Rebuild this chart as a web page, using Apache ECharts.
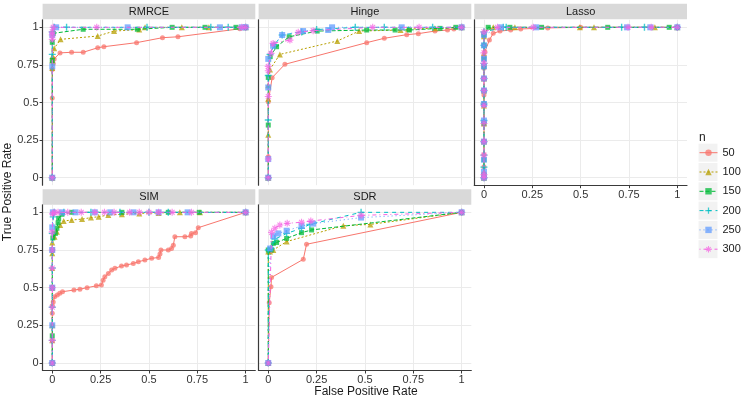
<!DOCTYPE html>
<html><head><meta charset="utf-8">
<script src="https://cdn.jsdelivr.net/npm/echarts@6/dist/echarts.min.js"></script>
<style>html,body{margin:0;padding:0;background:#fff}#c{width:747px;height:399px}</style>
</head><body><div id="c"></div>
<script>
const methods = ['RMRCE','Hinge','Lasso','SIM','SDR'];
const nLevels = ['50','100','150','200','250','300'];
const tickValues = [0,0.25,0.5,0.75,1];

// each method: one [FPR, TPR] list per n level (50,100,150,200,250,300)
const rmrce = [
  [[0,0],[0,0.53],[0,0.72],[0.005,0.76],[0.01,0.79],[0.04,0.83],[0.10,0.834],[0.16,0.834],[0.235,0.864],[0.267,0.871],[0.436,0.898],[0.57,0.931],[0.65,0.937],[0.97,0.99],[1,1]],
  [[0,0],[0,0.73],[0,0.78],[0.002,0.81],[0.01,0.86],[0.043,0.92],[0.235,0.942],[0.32,0.975],[0.45,0.985],[0.48,1],[0.67,1],[0.81,1],[1,1]],
  [[0,0],[0,0.78],[0,0.9],[0.005,0.96],[0.16,0.987],[0.44,0.987],[0.62,1],[0.79,1],[0.95,1],[1,1]],
  [[0,0],[0,0.82],[0,0.97],[0.01,1],[0.074,1],[0.49,1],[0.82,1],[0.91,1],[1,1]],
  [[0,0],[0,0.74],[0,0.95],[0.02,1],[0.39,1],[0.867,1],[0.98,1],[1,1]],
  [[0,0],[0,0.92],[0,0.95],[0,0.97],[0.005,1],[0.23,1],[0.98,1],[1,1]]
];
const hinge = [
  [[0,0],[0,0.14],[0,0.505],[0.02,0.665],[0.086,0.754],[0.509,0.898],[0.60,0.927],[0.716,0.951],[0.776,0.958],[0.862,0.975],[0.927,0.982],[0.96,0.989],[1,1]],
  [[0,0],[0,0.286],[0,0.525],[0,0.614],[0.009,0.72],[0.06,0.82],[0.357,0.909],[0.47,0.975],[0.684,0.982],[0.724,0.989],[0.862,0.993],[1,1]],
  [[0,0],[0,0.35],[0,0.667],[0.01,0.805],[0.043,0.871],[0.108,0.937],[0.253,0.975],[0.509,0.982],[0.656,0.982],[0.73,0.982],[0.888,0.993],[0.97,1],[1,1]],
  [[0,0],[0,0.384],[0,0.68],[0.009,0.82],[0.03,0.882],[0.072,0.949],[0.173,0.969],[0.25,0.985],[0.45,1],[0.6,1],[0.85,1],[1,1]],
  [[0,0],[0,0.124],[0,0.6],[0,0.79],[0.025,0.877],[0.072,0.949],[0.18,0.975],[0.31,0.982],[0.33,1],[0.69,1],[1,1]],
  [[0,0],[0,0.124],[0,0.54],[0,0.711],[0,0.74],[0.014,0.827],[0.025,0.893],[0.112,0.915],[0.155,0.967],[0.232,0.978],[0.54,1],[0.78,1],[1,1]]
];
const lasso = [
  [[0,0],[0,0.073],[0,0.155],[0,0.24],[0,0.36],[0,0.484],[0,0.55],[0,0.66],[0,0.727],[0,0.8],[0.005,0.838],[0.028,0.916],[0.048,0.96],[0.083,0.975],[0.138,0.982],[0.19,0.989],[0.33,0.996],[0.5,1],[1,1]],
  [[0,0],[0,0.04],[0,0.24],[0,0.36],[0,0.48],[0,0.58],[0,0.66],[0,0.76],[0,0.83],[0,0.94],[0,0.97],[0.048,1],[0.16,1],[0.496,1],[0.569,1],[0.884,1],[1,1]],
  [[0,0],[0,0.02],[0,0.12],[0,0.24],[0,0.36],[0,0.49],[0,0.58],[0,0.66],[0,0.74],[0,0.79],[0,0.88],[0,0.95],[0.022,1],[0.134,1],[0.298,1],[0.64,1],[0.958,1],[1,1]],
  [[0,0],[0,0.07],[0,0.15],[0,0.24],[0,0.38],[0,0.49],[0,0.58],[0,0.66],[0,0.76],[0,0.88],[0,0.97],[0.1,1],[0.115,1],[0.712,1],[0.83,1],[1,1]],
  [[0,0],[0,0.04],[0,0.12],[0,0.24],[0,0.38],[0,0.49],[0,0.58],[0,0.66],[0,0.74],[0,0.79],[0,0.88],[0,0.95],[0.086,1],[0.27,1],[0.74,1],[0.86,1],[1,1]],
  [[0,0],[0,0.02],[0,0.15],[0,0.24],[0,0.36],[0,0.48],[0,0.58],[0,0.66],[0,0.76],[0,0.83],[0,0.97],[0.07,1],[0.255,1],[0.745,1],[0.865,1],[1,1]]
];
const sim = [
  [[0,0],[0,0.15],[0,0.25],[0,0.33],[0,0.38],[0.005,0.404],[0.012,0.44],[0.026,0.451],[0.039,0.462],[0.053,0.473],[0.112,0.484],[0.143,0.49],[0.18,0.50],[0.228,0.512],[0.254,0.517],[0.263,0.549],[0.272,0.572],[0.29,0.594],[0.307,0.617],[0.324,0.628],[0.358,0.644],[0.384,0.65],[0.419,0.661],[0.445,0.672],[0.479,0.683],[0.514,0.695],[0.55,0.70],[0.557,0.723],[0.562,0.75],[0.6,0.75],[0.617,0.76],[0.626,0.782],[0.634,0.838],[0.686,0.838],[0.716,0.843],[0.72,0.86],[0.741,0.865],[0.755,0.898],[1,1]],
  [[0,0],[0,0.15],[0,0.25],[0,0.5],[0,0.63],[0,0.728],[0,0.80],[0.012,0.838],[0.024,0.871],[0.041,0.916],[0.059,0.942],[0.10,0.949],[0.154,0.955],[0.20,0.965],[0.24,0.971],[0.29,0.982],[0.36,0.987],[0.45,0.993],[0.55,0.996],[0.66,1],[0.764,1],[1,1]],
  [[0,0],[0,0.18],[0,0.5],[0,0.75],[0.003,0.83],[0.016,0.86],[0.024,0.894],[0.03,0.93],[0.033,0.96],[0.05,0.987],[0.1,1],[0.36,1],[0.6,1],[0.76,1],[1,1]],
  [[0,0],[0,0.15],[0,0.37],[0,0.63],[0,0.86],[0.005,0.97],[0.01,1],[0.06,1],[0.2,1],[0.35,1],[0.5,1],[0.6,1],[1,1]],
  [[0,0],[0,0.25],[0,0.5],[0,0.75],[0,0.9],[0.003,1],[0.05,1],[0.12,1],[0.22,1],[0.3,1],[0.42,1],[0.55,1],[0.7,1],[1,1]],
  [[0,0],[0,0.15],[0,0.37],[0,0.5],[0,0.63],[0,0.75],[0,0.87],[0.002,0.99],[0.01,1],[0.03,1],[0.08,1],[0.15,1],[0.22,1],[0.27,1],[0.32,1],[0.4,1],[0.45,1],[0.5,1],[0.55,1],[0.62,1],[0.72,1],[1,1]]
];
const sdr = [
  [[0,0],[0.005,0.4],[0.014,0.506],[0.017,0.568],[0.181,0.688],[0.198,0.788],[1,1]],
  [[0,0],[0,0.74],[0.009,0.74],[0.026,0.75],[0.095,0.806],[0.388,0.911],[0.528,0.92],[1,1]],
  [[0,0],[0,0.75],[0.015,0.75],[0.026,0.794],[0.043,0.8],[0.095,0.827],[0.172,0.865],[0.224,0.883],[1,1]],
  [[0,0],[0,0.75],[0.015,0.76],[0.034,0.822],[0.095,0.86],[0.172,0.894],[0.215,0.92],[0.48,1],[1,1]],
  [[0,0],[0.01,0.76],[0.026,0.842],[0.052,0.86],[0.095,0.878],[0.172,0.909],[0.232,0.925],[0.48,0.965],[1,1]],
  [[0,0],[0.017,0.867],[0.034,0.894],[0.06,0.916],[0.098,0.927],[0.172,0.934],[0.22,0.942],[0.48,0.98],[1,1]]
];
const methodData = [rmrce, hinge, lasso, sim, sdr];

const colors = ['#F8766D','#B79F00','#00BA38','#00BFC4','#619CFF','#F564E3'];
const dashes = ['solid',[2,2],[4,2],[4,4],[1,3],[1,3,4,3]];
const plusPath = 'path://M4,0H6V4H10V6H6V10H4V6H0V4H4Z';
const starPath = 'path://M4.2,0H5.8V4.2H10V5.8H5.8V10H4.2V5.8H0V4.2H4.2Z M1,2.1L2.1,1L5,3.9L7.9,1L9,2.1L6.1,5L9,7.9L7.9,9L5,6.1L2.1,9L1,7.9L3.9,5Z';
const symbols = ['circle','triangle','rect',plusPath,'rect',starPath];
const symbolSizes = [5,6,5,7,6,7];

const colLeft = [42.6, 258.6, 474.3];
const gw = 212.7;
const rowTop = [19.8, 204.8];
const gh = [165.4, 165.7];
const panels = [
  {col:0,row:0,showX:false,showY:true, xLine:false},
  {col:1,row:0,showX:false,showY:false,xLine:false},
  {col:2,row:0,showX:true, showY:false,xLine:true},
  {col:0,row:1,showX:true, showY:true, xLine:true},
  {col:1,row:1,showX:true, showY:false,xLine:true}
];

const grid=[], xAxis=[], yAxis=[], series=[], graphic=[];
const axisCol = '#3a3a3a';
const fontFam = 'Liberation Sans, Arial, sans-serif';
panels.forEach((p,i)=>{
  grid.push({left:colLeft[p.col], top:rowTop[p.row], width:gw, height:gh[p.row]});
  const common = {
    gridIndex:i, type:'value', min:-0.05, max:1.05,
    splitLine:{show:true, lineStyle:{color:'#EBEBEB', width:1}},
    axisTick:{customValues:tickValues, length:3, lineStyle:{color:axisCol}},
    axisLabel:{customValues:tickValues, fontSize:11, color:'#333', fontFamily:fontFam}
  };
  xAxis.push(Object.assign({}, common, {
    axisLine:{show:p.xLine, onZero:false, lineStyle:{color:axisCol, width:1.2}},
    axisTick:Object.assign({}, common.axisTick, {show:p.showX}),
    axisLabel:Object.assign({}, common.axisLabel, {show:p.showX, margin:4})
  }));
  yAxis.push(Object.assign({}, common, {
    axisLine:{show:true, onZero:false, lineStyle:{color:axisCol, width:1.2}},
    axisTick:Object.assign({}, common.axisTick, {show:p.showY}),
    axisLabel:Object.assign({}, common.axisLabel, {show:p.showY, margin:4})
  }));
  // strip
  const sy = p.row===0 ? 3.8 : 189.3;
  graphic.push({type:'rect', shape:{x:colLeft[p.col], y:sy, width:gw, height:15.5}, style:{fill:'#D9D9D9'}, silent:true});
  graphic.push({type:'text', x:colLeft[p.col]+gw/2, y:sy+7.9, style:{text:methods[i], fill:'#1A1A1A', font:'11px "Liberation Sans", Arial, sans-serif', align:'center', verticalAlign:'middle'}, silent:true});
  methodData[i].forEach((d,k)=>{
    series.push({
      type:'line', name:nLevels[k], xAxisIndex:i, yAxisIndex:i, data:d,
      symbol:symbols[k], symbolSize:symbolSizes[k], showSymbol:true,
      lineStyle:{color:colors[k], width:1, type:dashes[k]},
      itemStyle:{color:colors[k], opacity:0.75},
      emphasis:{disabled:true}, z:2+k
    });
  });
});

// legend key backgrounds and title
const legendY = [152.7,172.0,191.3,210.6,229.9,249.2];
legendY.forEach(y=>{
  graphic.push({type:'rect', shape:{x:698.5, y:y-9, width:19, height:18}, style:{fill:'#F2F2F2'}, silent:true, z:-1});
});
graphic.push({type:'text', x:699, y:138, style:{text:'n', fill:'#1A1A1A', font:'12px "Liberation Sans", Arial, sans-serif', verticalAlign:'middle'}, silent:true});
graphic.push({type:'text', x:8, y:192, rotation:Math.PI/2, style:{text:'True Positive Rate', fill:'#1A1A1A', font:'12px "Liberation Sans", Arial, sans-serif', align:'center', verticalAlign:'middle'}, silent:true});
graphic.push({type:'text', x:366, y:391.5, style:{text:'False Positive Rate', fill:'#1A1A1A', font:'12px "Liberation Sans", Arial, sans-serif', align:'center', verticalAlign:'middle'}, silent:true});

const chart = echarts.init(document.getElementById('c'), null, {renderer:'canvas'});
chart.setOption({
  animation:false,
  backgroundColor:'#fff',
  grid, xAxis, yAxis, series, graphic,
  legend:{
    data:nLevels, orient:'vertical', left:699, top:147.2, padding:0,
    itemWidth:18, itemHeight:8, itemGap:8.3,
    lineStyle:{width:1},
    textStyle:{fontSize:11, color:'#1A1A1A', fontFamily:fontFam},
    selectedMode:false
  }
});
</script></body></html>
